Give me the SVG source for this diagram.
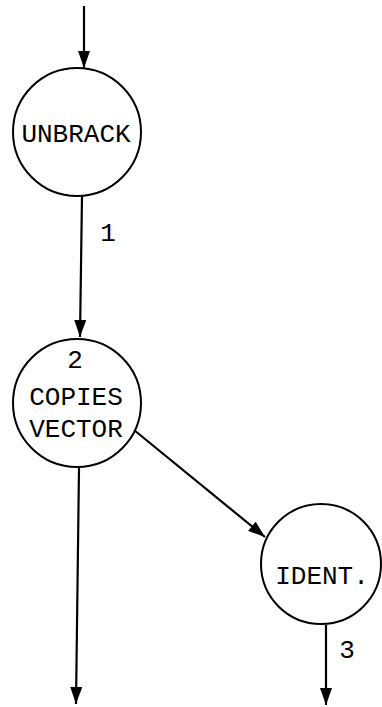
<svg xmlns="http://www.w3.org/2000/svg" width="382" height="707" viewBox="0 0 382 707">
<style>
.node{fill:#fff;stroke:#000;stroke-width:2}
.lbl{font-family:"Liberation Mono","Courier New",monospace;font-size:26px;fill:#000;text-anchor:middle}
.edge{stroke:#000;stroke-width:2.2;fill:none;marker-end:url(#ah)}
</style>
<defs>
<marker id="ah" markerUnits="userSpaceOnUse" markerWidth="17" markerHeight="12" refX="17" refY="6" viewBox="0 0 17 12" orient="auto">
<path d="M0,0 L17,6 L0,12 Z" fill="#000"/>
</marker>
</defs>
<g id="edges">
<line class="edge" x1="84" y1="6" x2="84" y2="68"/>
<line class="edge" x1="82" y1="196" x2="80" y2="337"/>
<line class="edge" x1="134" y1="430" x2="265" y2="537"/>
<line class="edge" x1="79" y1="468" x2="76" y2="704"/>
<line class="edge" x1="326" y1="625" x2="326" y2="705"/>
<text class="lbl" x="108" y="241">1</text>
<text class="lbl" x="347" y="658">3</text>
</g>
<g id="unbrack">
<circle class="node" cx="77" cy="132" r="64"/>
<text class="lbl" x="76" y="142">UNBRACK</text>
</g>
<g id="copies">
<circle class="node" cx="77" cy="403" r="64"/>
<text class="lbl" x="75" y="368">2</text>
<text class="lbl" x="76" y="405">COPIES</text>
<text class="lbl" x="76" y="437">VECTOR</text>
</g>
<g id="ident">
<circle class="node" cx="321" cy="564" r="60"/>
<text class="lbl" x="322" y="584">IDENT.</text>
</g>
</svg>
